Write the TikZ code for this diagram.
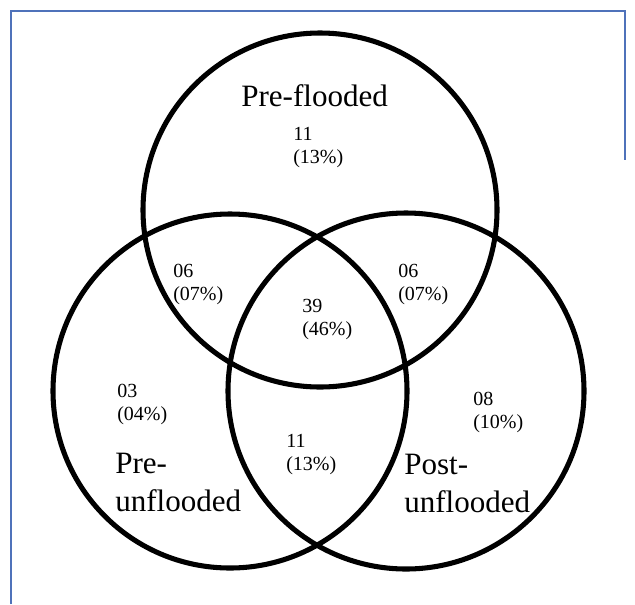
\documentclass[tikz,border=0pt]{standalone}
\usepackage{fontspec}
\setmainfont{Liberation Serif}
\definecolor{framecol}{RGB}{79,114,186}

\begin{document}
\begin{tikzpicture}[x=0.75pt,y=-0.75pt,
  ring/.style={line width=3.8pt},
  count/.style={anchor=base west,align=left,inner sep=0pt,font=\fontsize{15}{17.25}\selectfont},
  setname/.style={anchor=base west,align=left,inner sep=0pt,font=\fontsize{23.3}{28.5}\selectfont}]
\useasboundingbox (0,0) rectangle (635,604);
\draw[framecol, line width=1.1pt] (11,604) -- (11,11) -- (625,11) -- (625,160);
% the three sets
\draw[ring] (320,210) circle (177);
\draw[ring] (230,391) circle (177);
\draw[ring] (406,391) circle (178);
% set names (base = last line)
\node[setname] (pf) at (241,106) {Pre-flooded};
\node[setname] (pu) at (115,511) {Pre-\\unflooded};
\node[setname] (po) at (404,512) {Post-\\unflooded};
% counts
\node[count] (onlypf) at (293,163) {11\\(13\%)};
\node[count] (pfpu) at (173,300) {06\\(07\%)};
\node[count] (all) at (302,335) {39\\(46\%)};
\node[count] (pfpo) at (398,300) {06\\(07\%)};
\node[count] (onlypu) at (117,420) {03\\(04\%)};
\node[count] (pupo) at (286,470) {11\\(13\%)};
\node[count] (onlypo) at (473,428) {08\\(10\%)};
\end{tikzpicture}
\end{document}
